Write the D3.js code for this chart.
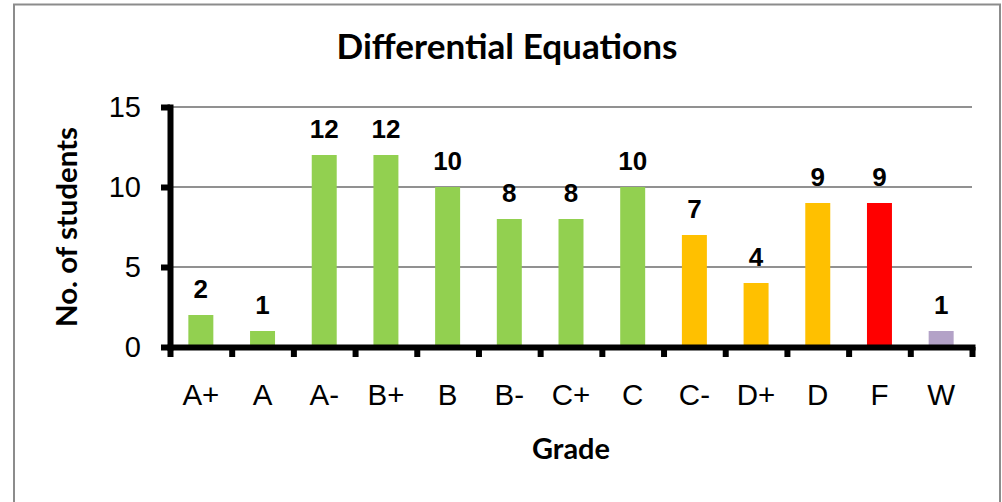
<!DOCTYPE html>
<html>
<head>
<meta charset="utf-8">
<script src="https://cdn.jsdelivr.net/npm/d3@7"></script>
<style>
  html, body { margin: 0; padding: 0; background: #fff; }
  svg { display: block; }
</style>
</head>
<body>
<svg id="chart" width="1002" height="502"></svg>
<script>
// ---- data ----
const grades = ["A+", "A", "A-", "B+", "B", "B-", "C+", "C", "C-", "D+", "D", "F", "W"];
const counts = [2, 1, 12, 12, 10, 8, 8, 10, 7, 4, 9, 9, 1];
const outcome = ["good", "good", "good", "good", "good", "good", "good", "good",
                 "marginal", "marginal", "marginal", "fail", "withdrawn"];
const yTicks = [0, 5, 10, 15];
const titleText = "Differential Equations";
const xTitle = "Grade";
const yTitle = "No. of students";

// ---- layout ----
const svg = d3.select("#chart");
const pL = 170, pR = 972, pT = 107, pB = 347;
const boldFont = "Lato, 'Open Sans', sans-serif";
const plainFont = "'Liberation Sans', Arial, sans-serif";

const color = d3.scaleOrdinal()
  .domain(["good", "marginal", "fail", "withdrawn"])
  .range(["#92D050", "#FFC000", "#FF0000", "#B3A2C7"]);

const x = d3.scaleBand().domain(grades).range([pL, pR])
  .paddingInner(0.595).paddingOuter(0.2975);
const xb = d3.scaleLinear().domain([0, grades.length]).range([pL, pR]);
const y = d3.scaleLinear().domain([0, 15]).range([pB, pT]);

// outer border
svg.append("rect")
  .attr("x", 14).attr("y", 4.5).attr("width", 986).attr("height", 540)
  .attr("fill", "none").attr("stroke", "#8c8c8c").attr("stroke-width", 2);

// gridlines
svg.append("g").selectAll("line").data(yTicks.filter(d => d > 0)).join("line")
  .attr("x1", pL).attr("x2", pR)
  .attr("y1", d => Math.round(y(d))).attr("y2", d => Math.round(y(d)))
  .attr("stroke", "#919191").attr("stroke-width", 2);

// bars
const data = grades.map((g, i) => ({ g, v: counts[i], o: outcome[i] }));
svg.append("g").selectAll("rect").data(data).join("rect")
  .attr("x", d => x(d.g)).attr("width", x.bandwidth())
  .attr("y", d => y(d.v)).attr("height", d => y(0) - y(d.v))
  .attr("fill", d => color(d.o));

// data labels
svg.append("g").selectAll("text").data(data).join("text")
  .attr("x", d => x(d.g) + x.bandwidth() / 2)
  .attr("y", d => y(d.v) - 17)
  .attr("text-anchor", "middle")
  .attr("font-family", plainFont).attr("font-weight", "bold").attr("font-size", 26)
  .attr("fill", "#000")
  .text(d => d.v);

// y axis
const yAxis = svg.append("g").attr("transform", `translate(${pL},0)`)
  .call(d3.axisLeft(y).tickValues(yTicks).tickSize(9).tickSizeOuter(0).tickPadding(20));
yAxis.select(".domain").attr("stroke", "#000").attr("stroke-width", 6).attr("stroke-linecap", "square");
yAxis.selectAll(".tick line").attr("stroke", "#000").attr("stroke-width", 6);
yAxis.selectAll(".tick text")
  .attr("font-family", plainFont).attr("font-size", 29).attr("fill", "#000");

// x axis (boundary ticks)
const xAxisB = svg.append("g").attr("transform", `translate(0,${pB})`)
  .call(d3.axisBottom(xb).tickValues(d3.range(grades.length + 1)).tickFormat("")
    .tickSize(10).tickSizeOuter(0));
xAxisB.select(".domain").attr("stroke", "#000").attr("stroke-width", 6).attr("stroke-linecap", "square");
xAxisB.selectAll(".tick line").attr("stroke", "#000").attr("stroke-width", 6);

// x axis labels
const xAxisL = svg.append("g").attr("transform", `translate(0,${pB})`)
  .call(d3.axisBottom(x).tickSize(0).tickPadding(37));
xAxisL.select(".domain").remove();
xAxisL.selectAll(".tick text")
  .attr("font-family", plainFont).attr("font-size", 29.5).attr("fill", "#000");

// helper: fit bold text to a target width
function fit(sel, target) {
  const len = sel.node().getComputedTextLength();
  const fs = parseFloat(sel.attr("font-size"));
  sel.attr("font-size", fs * target / len);
}

// title
const t = svg.append("text")
  .attr("x", 507).attr("y", 59)
  .attr("text-anchor", "middle")
  .attr("font-family", boldFont).attr("font-weight", "bold").attr("font-size", 30)
  .attr("fill", "#000").text(titleText);
fit(t, 341);

// x title
const xt = svg.append("text")
  .attr("x", (pL + pR) / 2).attr("y", 459)
  .attr("text-anchor", "middle")
  .attr("font-family", boldFont).attr("font-weight", "bold").attr("font-size", 28)
  .attr("fill", "#000").text(xTitle);
fit(xt, 78);

// y title
const yt = svg.append("text")
  .attr("transform", `translate(77,${(pT + pB) / 2}) rotate(-90)`)
  .attr("text-anchor", "middle")
  .attr("font-family", boldFont).attr("font-weight", "bold").attr("font-size", 28)
  .attr("fill", "#000").text(yTitle);
fit(yt, 200);
</script>
</body>
</html>
